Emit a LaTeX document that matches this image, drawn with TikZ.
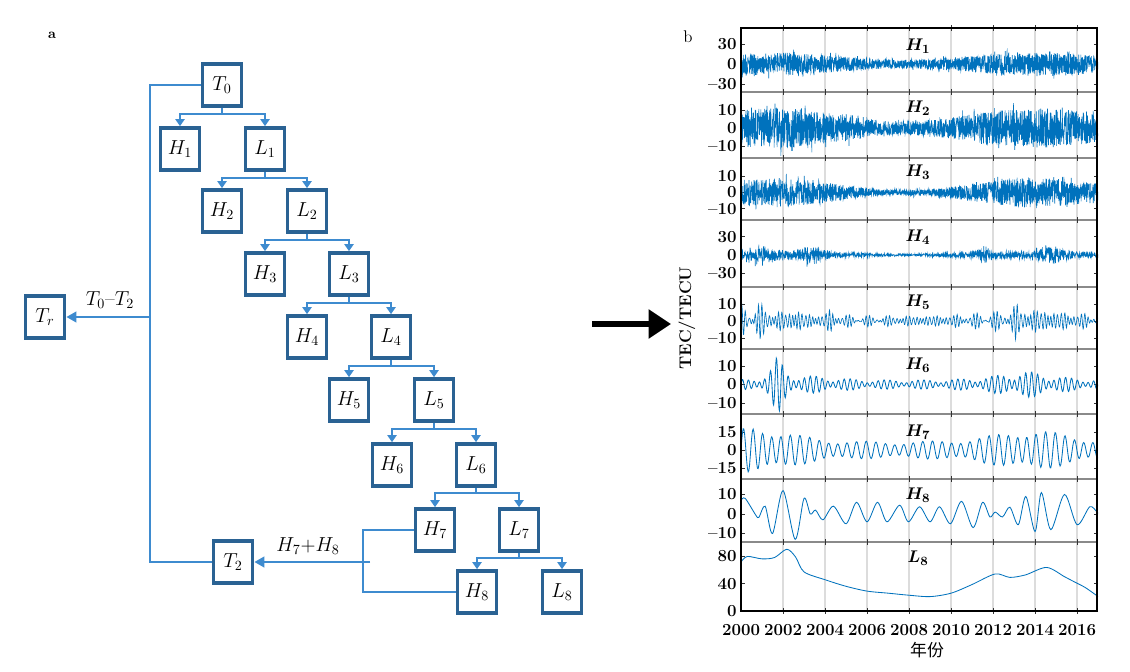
\documentclass[tikz,border=0pt]{standalone}
\usepackage{fontspec}
\usepackage{amsmath}
\newfontfamily\cjkfont{Noto Sans CJK SC}
\usetikzlibrary{arrows.meta}

\definecolor{boxblue}{HTML}{2A6293}
\definecolor{linkblue}{HTML}{3E8BCF}
\definecolor{sigblue}{HTML}{0072BD}
\definecolor{gridgray}{HTML}{DCDCDC}
\definecolor{sepgray}{HTML}{8A8A8A}

\tikzset{
  box/.style={draw=boxblue, line width=2.6pt, fill=white, inner sep=0pt,
    minimum width=0.98cm, minimum height=1.05cm, font=\fontsize{14}{16}\selectfont},
  link/.style={linkblue, line width=1.3pt},
  flow/.style={link, -{Triangle[length=5pt,width=6.5pt]}},
  feed/.style={link, line width=1.5pt, -{Triangle[length=7pt,width=7.5pt]}},
  bigarrow/.style={black, line width=4.3pt, -{Triangle[length=16pt,width=20pt]}},
  noise/.style={sigblue, line width=0.45pt},
  sig/.style={sigblue, line width=0.6pt},
  gridline/.style={gridgray, line width=0.8pt},
  sepline/.style={sepgray, line width=1pt},
  frame/.style={black, line width=1.4pt},
  tickmark/.style={black!80, line width=0.5pt},
  ticklab/.style={anchor=east, inner sep=0pt, xshift=-3pt,
    font=\bfseries\fontsize{12}{14}\selectfont},
  yearlab/.style={inner sep=0pt, font=\bfseries\fontsize{12}{14}\selectfont},
  panlab/.style={inner sep=0pt, font=\boldmath\fontsize{13}{15}\selectfont},
  declare function={
    envf(\t,\f)=\f+(1-\f)*0.5*(1+cos(28.8*(\t-1.5)));
    lor(\t,\c,\w)=1/(1+((\t-\c)/\w)^2);
    wave(\t,\p)=sin(360*mod(\t/\p,1));
  }
}

\begin{document}
\begin{tikzpicture}[x=0.025cm, y=-0.025cm]
  \fill[white] (0,0) rectangle (1130,671);
  \useasboundingbox (0,0) rectangle (1130,671);
  \pgfmathsetseed{42}

  % ---- a: decomposition tree ----
  \node[font=\bfseries\fontsize{10}{11}\selectfont] (tagA) at (52,35) {a};

  \node[box] (T0) at (222,85) {$T_0$};
  \node[box] (H1) at (180,149) {$H_1$};
  \node[box] (L1) at (265,149) {$L_1$};
  \node[box] (H2) at (222,211) {$H_2$};
  \node[box] (L2) at (307,211) {$L_2$};
  \node[box] (H3) at (265,274) {$H_3$};
  \node[box] (L3) at (349,274) {$L_3$};
  \node[box] (H4) at (307,337) {$H_4$};
  \node[box] (L4) at (391,337) {$L_4$};
  \node[box] (H5) at (349,400) {$H_5$};
  \node[box] (L5) at (434,400) {$L_5$};
  \node[box] (H6) at (392,465) {$H_6$};
  \node[box] (L6) at (476,465) {$L_6$};
  \node[box] (H7) at (435,530) {$H_7$};
  \node[box] (L7) at (519,530) {$L_7$};
  \node[box] (H8) at (477,592) {$H_8$};
  \node[box] (L8) at (562,592) {$L_8$};
  \node[box] (T2) at (233,562) {$T_2$};
  \node[box] (Tr) at (45,317) {$T_r$};

  \draw[flow] (T0.south) -- ++(0,6) -| (H1.north);
  \draw[flow] (T0.south) -- ++(0,6) -| (L1.north);
  \draw[flow] (L1.south) -- ++(0,6) -| (H2.north);
  \draw[flow] (L1.south) -- ++(0,6) -| (L2.north);
  \draw[flow] (L2.south) -- ++(0,6) -| (H3.north);
  \draw[flow] (L2.south) -- ++(0,6) -| (L3.north);
  \draw[flow] (L3.south) -- ++(0,6) -| (H4.north);
  \draw[flow] (L3.south) -- ++(0,6) -| (L4.north);
  \draw[flow] (L4.south) -- ++(0,6) -| (H5.north);
  \draw[flow] (L4.south) -- ++(0,6) -| (L5.north);
  \draw[flow] (L5.south) -- ++(0,6) -| (H6.north);
  \draw[flow] (L5.south) -- ++(0,6) -| (L6.north);
  \draw[flow] (L6.south) -- ++(0,5) -| (H7.north);
  \draw[flow] (L6.south) -- ++(0,5) -| (L7.north);
  \draw[flow] (L7.south) -- ++(0,5) -| (H8.north);
  \draw[flow] (L7.south) -- ++(0,5) -| (L8.north);

  % trend branch
  \coordinate (trunk) at (150,317);
  \draw[link] (T0.west) -| (trunk) |- (T2.west);
  \draw[feed] (trunk) -- (Tr.east);
  \node[font=\fontsize{14}{16}\selectfont] (difflab) at (110,300) {$T_0$--$T_2$};

  \coordinate (join) at (363,562);
  \coordinate (sum) at (370,562);
  \draw[link] (H7.west) -| (join) |- (H8.west);
  \draw[feed] (sum) -- (T2.east);
  \node[font=\fontsize{14}{16}\selectfont] (sumlab) at (308,546) {$H_7$+$H_8$};

  \coordinate (arrS) at (592,324);
  \coordinate (arrE) at (671,324);
  \draw[bigarrow] (arrS) -- (arrE);

  % ---- b: components ----
  \node[font=\fontsize{12}{14}\selectfont] (tagB) at (688,37) {b};
  \node[rotate=90, font=\bfseries\fontsize{12}{14}\selectfont] (ylab) at (687,318) {TEC/TECU};

  \foreach \k in {2,4,...,16}
    \draw[gridline] ({741+21*\k},28) -- ({741+21*\k},611);

  % H1
  \begin{scope}[shift={(741,64)}, x=0.525cm, y=0.01667cm]
    \foreach \v/\t in {30/30,0/0,-30/--30} {
      \node[ticklab] (pa\v) at (0,\v) {\t};
      \draw[tickmark] (0,\v) -- (0.2,\v) (17,\v) -- (16.8,\v);
    }
    \begin{scope}
      \clip (0,54) rectangle (17,-42);
      \draw[noise] plot[samples=1800, domain=0:17]
        (\x, {envf(\x,0.4)*(17*rand+12*rand*rnd^6)});
    \end{scope}
  \end{scope}

  % H2
  \begin{scope}[shift={(741,128)}, x=0.525cm, y=0.045cm]
    \foreach \v/\t in {10/10,0/0,-10/--10} {
      \node[ticklab] (pb\v) at (0,\v) {\t};
      \draw[tickmark] (0,\v) -- (0.2,\v) (17,\v) -- (16.8,\v);
    }
    \begin{scope}
      \clip (0,20) rectangle (17,-16.7);
      \draw[noise] plot[samples=1800, domain=0:17]
        (\x, {envf(\x,0.35)*(11*rand+7*rand*rnd^5)});
    \end{scope}
  \end{scope}

  % H3
  \begin{scope}[shift={(741,192.5)}, x=0.525cm, y=0.0405cm]
    \foreach \v/\t in {10/10,0/0,-10/--10} {
      \node[ticklab] (pc\v) at (0,\v) {\t};
      \draw[tickmark] (0,\v) -- (0.2,\v) (17,\v) -- (16.8,\v);
    }
    \begin{scope}
      \clip (0,21.3) rectangle (17,-17);
      \draw[noise] plot[samples=1700, domain=0:17]
        (\x, {envf(\x,0.15)*(9*rand+6*rand*rnd^5)});
    \end{scope}
  \end{scope}

  % H4
  \begin{scope}[shift={(741,255)}, x=0.525cm, y=0.01525cm]
    \foreach \v/\t in {30/30,0/0,-30/--30} {
      \node[ticklab] (pd\v) at (0,\v) {\t};
      \draw[tickmark] (0,\v) -- (0.2,\v) (17,\v) -- (16.8,\v);
    }
    \begin{scope}
      \clip (0,57.4) rectangle (17,-52.5);
      \draw[noise] plot[samples=1300, domain=0:17]
        (\x, {envf(\x,0.3)*6*rand
          +(13*lor(\x,0.8,0.6)+13*lor(\x,3.3,0.45)+11*lor(\x,11.6,0.4)+13*lor(\x,14.8,0.55))*rand
          +(10*lor(\x,1,0.5)+12*lor(\x,3.3,0.3)+10*lor(\x,14.6,0.4))*rand*rnd^4});
    \end{scope}
  \end{scope}

  % H5
  \begin{scope}[shift={(741,321)}, x=0.525cm, y=0.0425cm]
    \foreach \v/\t in {10/10,0/0,-10/--10} {
      \node[ticklab] (pe\v) at (0,\v) {\t};
      \draw[tickmark] (0,\v) -- (0.2,\v) (17,\v) -- (16.8,\v);
    }
    \begin{scope}
      \clip (0,20.6) rectangle (17,-15.9);
      \draw[sig, line width=0.45pt] plot[samples=1200, domain=0:17]
        (\x, {(0.5+1.6*lor(\x,0.6,0.9)+0.7*lor(\x,2.6,0.3)+0.7*lor(\x,4.3,0.3)
              +0.9*lor(\x,13.8,2.2)+0.8*lor(\x,13.1,0.15))
             *(2.5*wave(\x,0.16)+1.8*wave(\x,0.19)+1.2*wave(\x,0.135))});
    \end{scope}
  \end{scope}

  % H6
  \begin{scope}[shift={(741,384.5)}, x=0.525cm, y=0.04625cm]
    \foreach \v/\t in {10/10,0/0,-10/--10} {
      \node[ticklab] (pf\v) at (0,\v) {\t};
      \draw[tickmark] (0,\v) -- (0.2,\v) (17,\v) -- (16.8,\v);
    }
    \begin{scope}
      \clip (0,19.2) rectangle (17,-16);
      \draw[sig] plot[samples=800, domain=0:17]
        (\x, {(1.2+8*lor(\x,1.75,0.35)+1.5*lor(\x,3.5,1.5)+3.5*lor(\x,13.5,1.6))
             *(wave(\x,0.27)+0.5*wave(\x,0.32))});
    \end{scope}
  \end{scope}

  % H7
  \begin{scope}[shift={(741,450)}, x=0.525cm, y=0.03cm]
    \foreach \v/\t in {15/15,0/0,-15/--15} {
      \node[ticklab] (pg\v) at (0,\v) {\t};
      \draw[tickmark] (0,\v) -- (0.2,\v) (17,\v) -- (16.8,\v);
    }
    \begin{scope}
      \clip (0,30) rectangle (17,-24.2);
      \draw[sig] plot[samples=500, domain=0:17]
        (\x, {(3.5+12*lor(\x,0.8,2)+10*lor(\x,13.8,2.3))
             *(wave(\x,0.45)+0.25*wave(\x,0.53))});
    \end{scope}
  \end{scope}

  % H8
  \begin{scope}[shift={(741,514)}, x=0.525cm, y=0.04875cm]
    \foreach \v/\t in {10/10,0/0,-10/--10} {
      \node[ticklab] (ph\v) at (0,\v) {\t};
      \draw[tickmark] (0,\v) -- (0.2,\v) (17,\v) -- (16.8,\v);
    }
    \begin{scope}
      \clip (0,17.9) rectangle (17,-14.4);
      \draw[sig] plot[smooth] coordinates {(0,7) (0.2,8) (0.7,-0.5) (0.85,-1.7)
        (1.15,4) (1.5,-10) (2.0,12) (2.58,-13) (3.0,8) (3.3,0) (3.55,2) (3.9,-3)
        (4.4,4) (5.0,-5) (5.5,6) (6.0,-4) (6.5,6) (6.95,-4) (7.55,4.5) (7.97,-4)
        (8.5,3.7) (9.0,-4) (9.45,3.7) (9.97,-5) (10.5,6.5) (11.05,-7) (11.5,6)
        (11.85,-1.5) (12.1,1) (12.45,-1.5) (12.8,3.5) (13.2,-5.5) (13.56,9)
        (14.0,-9) (14.3,11) (14.75,-8) (15.4,10) (16.0,-5.5) (16.6,3.7)
        (16.95,1) (17.1,-0.5)};
    \end{scope}
  \end{scope}

  % L8
  \begin{scope}[shift={(741,611)}, x=0.525cm, y=0.01715cm]
    \foreach \v in {80,40,0} {
      \node[ticklab] (pi\v) at (0,\v) {\v};
      \draw[tickmark] (0,\v) -- (0.2,\v) (17,\v) -- (16.8,\v);
    }
    \begin{scope}
      \clip (0,100) rectangle (17,0);
      \draw[sig] plot[smooth] coordinates {(0,71.5) (0.3,79.5) (1.0,76) (1.6,78)
        (2.18,90) (2.6,78.6) (3.0,57) (4.0,45.6) (5.0,36) (6.0,29) (7.0,26)
        (8.0,23) (9.0,21) (10.0,26) (11.0,38.6) (12.1,54) (12.8,49) (13.55,52.7)
        (14.55,63.5) (15.4,50) (15.9,42) (16.4,34) (17,21)};
    \end{scope}
  \end{scope}

  % panel frames and ticks
  \foreach \yy in {92,158,220,287,349,414,479,542}
    \draw[sepline] (741,\yy) -- (1097,\yy);
  \foreach \yy in {28,92,158,220,287,349,414,479,542,611}
    \foreach \k in {2,4,...,16}
      \draw[tickmark] ({741+21*\k},{\yy-3}) -- ({741+21*\k},{\yy+3});
  \draw[frame] (741,28) rectangle (1097,611);

  \node[panlab] (nH1) at (918,46) {$H_1$};
  \node[panlab] (nH2) at (918,108) {$H_2$};
  \node[panlab] (nH3) at (918,172) {$H_3$};
  \node[panlab] (nH4) at (918,237) {$H_4$};
  \node[panlab] (nH5) at (918,302) {$H_5$};
  \node[panlab] (nH6) at (918,365) {$H_6$};
  \node[panlab] (nH7) at (918,432) {$H_7$};
  \node[panlab] (nH8) at (918,495) {$H_8$};
  \node[panlab] (nL8) at (918,558) {$L_8$};

  \foreach \k/\yr in {0/2000,2/2002,4/2004,6/2006,8/2008,10/2010,12/2012,14/2014,16/2016}
    \node[yearlab] (yr\yr) at ({741+21*\k},630) {\yr};
  \node[font=\cjkfont\fontsize{12}{14}\selectfont] (xlab) at (927,650) {年份};
\end{tikzpicture}
\end{document}
